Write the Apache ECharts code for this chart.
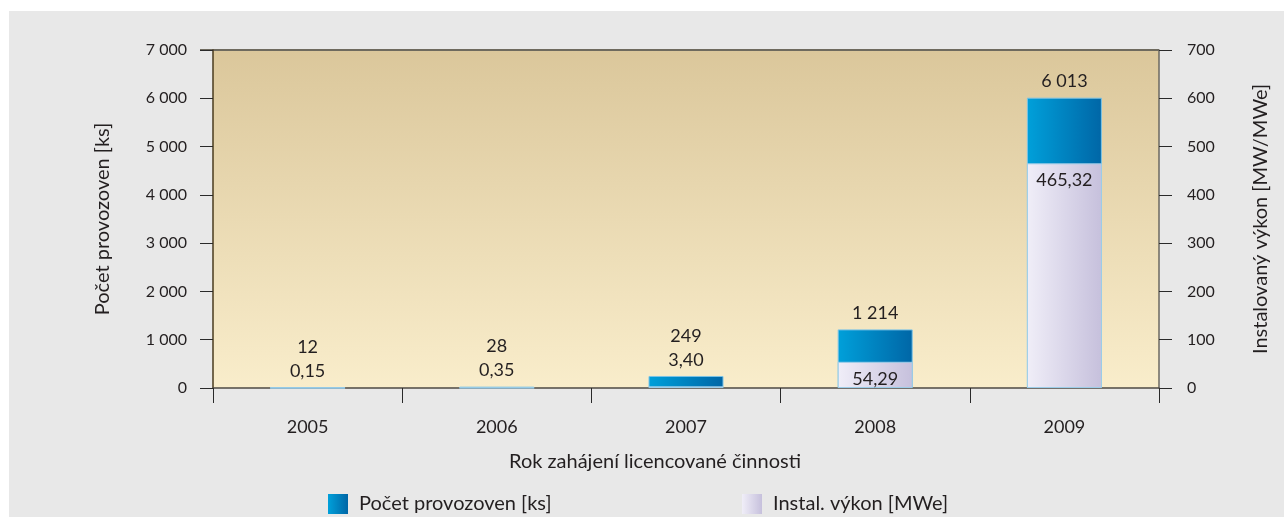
<!DOCTYPE html>
<html>
<head>
<meta charset="utf-8">
<script src="https://cdn.jsdelivr.net/npm/echarts@6/dist/echarts.min.js"></script>
<style>
  html, body { margin: 0; padding: 0; background: #ffffff; }
  #chart { position: absolute; left: 9px; top: 11px; width: 1275px; height: 506px; background: #e8e8e8; }
</style>
</head>
<body>
<div id="chart"></div>
<script>
// data
var years = ['2005', '2006', '2007', '2008', '2009'];
var provozovny = [12, 28, 249, 1214, 6013];
var vykon = [0.15, 0.35, 3.40, 54.29, 465.32];
var leftTicks = [0, 7000, 1000];
var rightTicks = [0, 700, 100];

var FONT = 'Lato';
var TXT = '#231f20';

// czech number format: space for thousands, comma for decimals
function fmt(v, dec) {
  var s = v.toFixed(dec).split('.');
  s[0] = s[0].replace(/\B(?=(\d{3})+(?!\d))/g, ' ');
  return s.join(',');
}

var chart = echarts.init(document.getElementById('chart'));

var blueGrad = new echarts.graphic.LinearGradient(0, 0, 1, 0, [
  { offset: 0, color: '#00a0da' },
  { offset: 1, color: '#0066a6' }
]);
var lavGrad = new echarts.graphic.LinearGradient(0, 0, 1, 0, [
  { offset: 0, color: '#f0eef8' },
  { offset: 1, color: '#c6c0dc' }
]);

var option = {
  animation: false,
  textStyle: { fontFamily: FONT, color: TXT },
  grid: {
    left: 204, right: 125, top: 39, bottom: 129,
    show: true,
    borderWidth: 0,
    backgroundColor: new echarts.graphic.LinearGradient(0, 0, 0, 1, [
      { offset: 0, color: '#dbc79b' },
      { offset: 1, color: '#f9edcb' }
    ])
  },
  legend: [
    {
      data: ['Počet provozoven [ks]'],
      left: 314, top: 478,
      icon: 'rect', itemWidth: 20, itemHeight: 20,
      itemStyle: { borderWidth: 0 },
      textStyle: { fontFamily: FONT, fontSize: 20, color: TXT, padding: [0, 0, 0, 6] }
    },
    {
      data: ['Instal. výkon [MWe]'],
      left: 728, top: 478,
      icon: 'rect', itemWidth: 20, itemHeight: 20,
      itemStyle: { borderWidth: 0 },
      textStyle: { fontFamily: FONT, fontSize: 20, color: TXT, padding: [0, 0, 0, 6] }
    }
  ],
  graphic: [
    {
      type: 'text',
      x: 646, y: 451,
      style: {
        text: 'Rok zahájení licencované činnosti',
        font: '20px ' + FONT, fill: TXT,
        align: 'center', verticalAlign: 'middle'
      }
    },
    {
      // top border of plot
      type: 'line',
      shape: { x1: 191, y1: 39, x2: 1150, y2: 39 },
      style: { stroke: '#6e6a5e', lineWidth: 2 }
    }
  ],
  xAxis: {
    type: 'category',
    data: years,
    boundaryGap: true,
    axisLine: { lineStyle: { color: '#4d4a44', width: 1.5 } },
    axisTick: { show: true, alignWithLabel: false, length: 15, lineStyle: { color: '#2a2a2a' } },
    axisLabel: { margin: 30, fontSize: 18, color: TXT, fontFamily: FONT }
  },
  yAxis: [
    {
      type: 'value',
      min: leftTicks[0], max: leftTicks[1], interval: leftTicks[2],
      name: 'Počet provozoven [ks]',
      nameLocation: 'middle', nameGap: 100, nameRotate: 90,
      nameTextStyle: { fontSize: 20, color: TXT, fontFamily: FONT },
      axisLine: { show: true, lineStyle: { color: '#4a3b1e', width: 1.5 } },
      axisTick: { show: true, length: 13, lineStyle: { color: '#2a2a2a' } },
      axisLabel: { margin: 26, fontSize: 16, color: TXT, fontFamily: FONT, formatter: function (v) { return fmt(v, 0); } },
      splitLine: { show: false }
    },
    {
      type: 'value',
      position: 'right',
      min: rightTicks[0], max: rightTicks[1], interval: rightTicks[2],
      name: 'Instalovaný výkon [MW/MWe]',
      nameLocation: 'middle', nameGap: 92, nameRotate: 90,
      nameTextStyle: { fontSize: 20, color: TXT, fontFamily: FONT },
      axisLine: { show: true, lineStyle: { color: '#6b6862', width: 1.5 } },
      axisTick: { show: true, length: 13, lineStyle: { color: '#2a2a2a' } },
      axisLabel: { margin: 28, fontSize: 16, color: TXT, fontFamily: FONT },
      splitLine: { show: false }
    }
  ],
  series: [
    {
      name: 'Počet provozoven [ks]',
      type: 'bar',
      yAxisIndex: 0,
      barWidth: 75,
      data: provozovny,
      itemStyle: { color: blueGrad, borderColor: '#7cc3e6', borderWidth: 1 },
      label: {
        show: true,
        position: 'top',
        distance: 4,
        fontSize: 18,
        lineHeight: 24,
        color: TXT,
        fontFamily: FONT,
        formatter: function (p) {
          var v = vykon[p.dataIndex];
          var s = fmt(p.value, 0);
          // small capacity values are printed above the bar
          if (v < 10) s += '\n' + fmt(v, 2);
          return s;
        }
      }
    },
    {
      name: 'Instal. výkon [MWe]',
      type: 'bar',
      yAxisIndex: 1,
      barWidth: 75,
      barGap: '-100%',
      data: vykon,
      itemStyle: { color: lavGrad, borderColor: '#9ccde8', borderWidth: 1 },
      label: {
        show: true,
        position: 'insideTop',
        distance: 8,
        fontSize: 18,
        color: TXT,
        fontFamily: FONT,
        formatter: function (p) {
          return p.value < 10 ? '' : fmt(p.value, 2);
        }
      }
    }
  ]
};

chart.setOption(option);
window.addEventListener('resize', chart.resize);
</script>
</body>
</html>
